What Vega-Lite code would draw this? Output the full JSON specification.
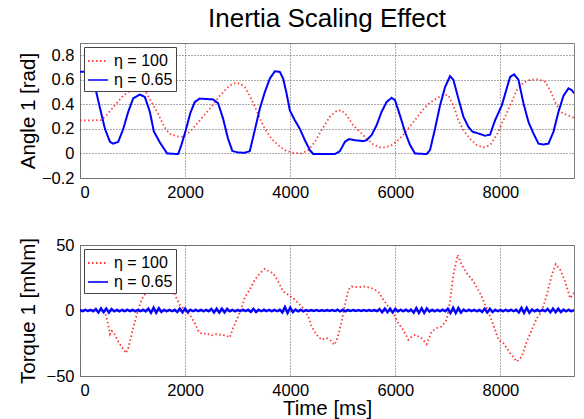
{
"$schema": "https://vega.github.io/schema/vega-lite/v6.json",
"padding": {"left": 17, "top": 5, "right": 4, "bottom": 0},
"config": {
  "font": "Liberation Sans",
  "view": {"stroke": "#808080", "strokeWidth": 1},
  "axis": {"domain": false, "ticks": false, "labelFontSize": 16.5, "labelColor": "#000", "titleFontSize": 20.5, "titleFontWeight": "normal", "titleColor": "#000", "grid": true, "gridColor": "#555", "gridDash": [1, 2], "gridWidth": 1, "labelPadding": 6},
  "legend": {"title": null, "orient": "top-left", "offset": 4, "padding": 3, "fillColor": "white", "strokeColor": "#444", "symbolType": "stroke", "symbolSize": 400, "symbolStrokeWidth": 2, "labelFontSize": 16, "labelColor": "#000", "labelOffset": 5, "rowPadding": -1, "cornerRadius": 0},
  "title": {"fontSize": 26, "fontWeight": "normal", "color": "#000"}
},
"datasets": {
  "aR": [
    {"s":"η = 100","t":0,"v":0.27},{"s":"η = 100","t":200,"v":0.27},{"s":"η = 100","t":400,"v":0.272},{"s":"η = 100","t":500,"v":0.31},{"s":"η = 100","t":640,"v":0.38},{"s":"η = 100","t":820,"v":0.47},{"s":"η = 100","t":950,"v":0.51},{"s":"η = 100","t":1080,"v":0.53},{"s":"η = 100","t":1200,"v":0.52},{"s":"η = 100","t":1255,"v":0.5},{"s":"η = 100","t":1410,"v":0.38},{"s":"η = 100","t":1480,"v":0.33},{"s":"η = 100","t":1600,"v":0.22},{"s":"η = 100","t":1700,"v":0.16},{"s":"η = 100","t":1840,"v":0.14},{"s":"η = 100","t":1930,"v":0.135},{"s":"η = 100","t":2090,"v":0.175},{"s":"η = 100","t":2280,"v":0.27},{"s":"η = 100","t":2470,"v":0.365},{"s":"η = 100","t":2660,"v":0.47},{"s":"η = 100","t":2850,"v":0.555},{"s":"η = 100","t":2975,"v":0.577},{"s":"η = 100","t":3060,"v":0.565},{"s":"η = 100","t":3136,"v":0.54},{"s":"η = 100","t":3231,"v":0.47},{"s":"η = 100","t":3326,"v":0.38},{"s":"η = 100","t":3422,"v":0.285},{"s":"η = 100","t":3517,"v":0.2},{"s":"η = 100","t":3644,"v":0.12},{"s":"η = 100","t":3771,"v":0.068},{"s":"η = 100","t":3898,"v":0.027},{"s":"η = 100","t":4057,"v":0.005},{"s":"η = 100","t":4216,"v":0},{"s":"η = 100","t":4343,"v":0.027},{"s":"η = 100","t":4470,"v":0.095},{"s":"η = 100","t":4597,"v":0.19},{"s":"η = 100","t":4755,"v":0.3},{"s":"η = 100","t":4882,"v":0.347},{"s":"η = 100","t":4978,"v":0.352},{"s":"η = 100","t":5073,"v":0.31},{"s":"η = 100","t":5200,"v":0.23},{"s":"η = 100","t":5327,"v":0.176},{"s":"η = 100","t":5454,"v":0.12},{"s":"η = 100","t":5581,"v":0.073},{"s":"η = 100","t":5708,"v":0.049},{"s":"η = 100","t":5803,"v":0.049},{"s":"η = 100","t":5930,"v":0.068},{"s":"η = 100","t":6057,"v":0.108},{"s":"η = 100","t":6184,"v":0.17},{"s":"η = 100","t":6279,"v":0.22},{"s":"η = 100","t":6406,"v":0.29},{"s":"η = 100","t":6533,"v":0.36},{"s":"η = 100","t":6660,"v":0.415},{"s":"η = 100","t":6787,"v":0.447},{"s":"η = 100","t":6914,"v":0.48},{"s":"η = 100","t":7009,"v":0.474},{"s":"η = 100","t":7105,"v":0.39},{"s":"η = 100","t":7200,"v":0.27},{"s":"η = 100","t":7295,"v":0.19},{"s":"η = 100","t":7422,"v":0.12},{"s":"η = 100","t":7549,"v":0.068},{"s":"η = 100","t":7676,"v":0.049},{"s":"η = 100","t":7803,"v":0.068},{"s":"η = 100","t":7930,"v":0.15},{"s":"η = 100","t":8057,"v":0.27},{"s":"η = 100","t":8184,"v":0.39},{"s":"η = 100","t":8311,"v":0.515},{"s":"η = 100","t":8438,"v":0.577},{"s":"η = 100","t":8565,"v":0.6},{"s":"η = 100","t":8724,"v":0.604},{"s":"η = 100","t":8851,"v":0.583},{"s":"η = 100","t":8946,"v":0.515},{"s":"η = 100","t":9041,"v":0.42},{"s":"η = 100","t":9137,"v":0.34},{"s":"η = 100","t":9232,"v":0.32},{"s":"η = 100","t":9403,"v":0.29}
  ],
  "aB": [
    {"s":"η = 0.65","t":0,"v":0.665},{"s":"η = 0.65","t":150,"v":0.665},{"s":"η = 0.65","t":230,"v":0.64},{"s":"η = 0.65","t":304,"v":0.51},{"s":"η = 0.65","t":380,"v":0.37},{"s":"η = 0.65","t":475,"v":0.2},{"s":"η = 0.65","t":570,"v":0.095},{"s":"η = 0.65","t":633,"v":0.08},{"s":"η = 0.65","t":728,"v":0.095},{"s":"η = 0.65","t":823,"v":0.2},{"s":"η = 0.65","t":918,"v":0.34},{"s":"η = 0.65","t":1013,"v":0.45},{"s":"η = 0.65","t":1140,"v":0.48},{"s":"η = 0.65","t":1234,"v":0.46},{"s":"η = 0.65","t":1329,"v":0.34},{"s":"η = 0.65","t":1405,"v":0.18},{"s":"η = 0.65","t":1519,"v":0.09},{"s":"η = 0.65","t":1658,"v":0},{"s":"η = 0.65","t":1867,"v":-0.005},{"s":"η = 0.65","t":1930,"v":0.07},{"s":"η = 0.65","t":2013,"v":0.19},{"s":"η = 0.65","t":2100,"v":0.33},{"s":"η = 0.65","t":2184,"v":0.42},{"s":"η = 0.65","t":2279,"v":0.447},{"s":"η = 0.65","t":2532,"v":0.44},{"s":"η = 0.65","t":2627,"v":0.41},{"s":"η = 0.65","t":2722,"v":0.285},{"s":"η = 0.65","t":2817,"v":0.12},{"s":"η = 0.65","t":2899,"v":0.02},{"s":"η = 0.65","t":3007,"v":0.008},{"s":"η = 0.65","t":3136,"v":0.005},{"s":"η = 0.65","t":3231,"v":0.019},{"s":"η = 0.65","t":3326,"v":0.19},{"s":"η = 0.65","t":3422,"v":0.366},{"s":"η = 0.65","t":3517,"v":0.5},{"s":"η = 0.65","t":3612,"v":0.61},{"s":"η = 0.65","t":3707,"v":0.67},{"s":"η = 0.65","t":3803,"v":0.664},{"s":"η = 0.65","t":3866,"v":0.61},{"s":"η = 0.65","t":3930,"v":0.49},{"s":"η = 0.65","t":3993,"v":0.35},{"s":"η = 0.65","t":4088,"v":0.27},{"s":"η = 0.65","t":4184,"v":0.2},{"s":"η = 0.65","t":4279,"v":0.108},{"s":"η = 0.65","t":4374,"v":0.027},{"s":"η = 0.65","t":4438,"v":-0.005},{"s":"η = 0.65","t":4851,"v":-0.005},{"s":"η = 0.65","t":4946,"v":0.019},{"s":"η = 0.65","t":5041,"v":0.095},{"s":"η = 0.65","t":5117,"v":0.117},{"s":"η = 0.65","t":5232,"v":0.108},{"s":"η = 0.65","t":5390,"v":0.1},{"s":"η = 0.65","t":5454,"v":0.108},{"s":"η = 0.65","t":5549,"v":0.15},{"s":"η = 0.65","t":5644,"v":0.23},{"s":"η = 0.65","t":5740,"v":0.34},{"s":"η = 0.65","t":5835,"v":0.42},{"s":"η = 0.65","t":5930,"v":0.453},{"s":"η = 0.65","t":5994,"v":0.434},{"s":"η = 0.65","t":6089,"v":0.31},{"s":"η = 0.65","t":6184,"v":0.176},{"s":"η = 0.65","t":6279,"v":0.07},{"s":"η = 0.65","t":6374,"v":0},{"s":"η = 0.65","t":6597,"v":-0.005},{"s":"η = 0.65","t":6660,"v":0.027},{"s":"η = 0.65","t":6755,"v":0.2},{"s":"η = 0.65","t":6850,"v":0.39},{"s":"η = 0.65","t":6946,"v":0.54},{"s":"η = 0.65","t":7041,"v":0.63},{"s":"η = 0.65","t":7105,"v":0.6},{"s":"η = 0.65","t":7200,"v":0.447},{"s":"η = 0.65","t":7295,"v":0.3},{"s":"η = 0.65","t":7390,"v":0.217},{"s":"η = 0.65","t":7473,"v":0.176},{"s":"η = 0.65","t":7581,"v":0.163},{"s":"η = 0.65","t":7708,"v":0.144},{"s":"η = 0.65","t":7803,"v":0.154},{"s":"η = 0.65","t":7898,"v":0.27},{"s":"η = 0.65","t":8025,"v":0.39},{"s":"η = 0.65","t":8120,"v":0.53},{"s":"η = 0.65","t":8184,"v":0.623},{"s":"η = 0.65","t":8260,"v":0.645},{"s":"η = 0.65","t":8343,"v":0.6},{"s":"η = 0.65","t":8438,"v":0.41},{"s":"η = 0.65","t":8533,"v":0.257},{"s":"η = 0.65","t":8628,"v":0.163},{"s":"η = 0.65","t":8724,"v":0.08},{"s":"η = 0.65","t":8819,"v":0.073},{"s":"η = 0.65","t":8914,"v":0.08},{"s":"η = 0.65","t":9009,"v":0.176},{"s":"η = 0.65","t":9105,"v":0.34},{"s":"η = 0.65","t":9200,"v":0.47},{"s":"η = 0.65","t":9295,"v":0.53},{"s":"η = 0.65","t":9359,"v":0.515},{"s":"η = 0.65","t":9403,"v":0.49}
  ],
  "tR": [
    {"s":"η = 100","t":0,"v":0.5},{"s":"η = 100","t":200,"v":0.3},{"s":"η = 100","t":400,"v":0.5},{"s":"η = 100","t":456,"v":0},{"s":"η = 100","t":490,"v":-3.3},{"s":"η = 100","t":538,"v":-11},{"s":"η = 100","t":570,"v":-18},{"s":"η = 100","t":601,"v":-15.5},{"s":"η = 100","t":633,"v":-16.5},{"s":"η = 100","t":665,"v":-18.6},{"s":"η = 100","t":728,"v":-23.7},{"s":"η = 100","t":790,"v":-27.5},{"s":"η = 100","t":873,"v":-32.6},{"s":"η = 100","t":918,"v":-28.8},{"s":"η = 100","t":981,"v":-18.6},{"s":"η = 100","t":1044,"v":-8.4},{"s":"η = 100","t":1108,"v":0.5},{"s":"η = 100","t":1171,"v":8.2},{"s":"η = 100","t":1266,"v":14.5},{"s":"η = 100","t":1400,"v":16.5},{"s":"η = 100","t":1550,"v":18},{"s":"η = 100","t":1700,"v":17.5},{"s":"η = 100","t":1772,"v":15.8},{"s":"η = 100","t":1836,"v":9.4},{"s":"η = 100","t":1899,"v":4.3},{"s":"η = 100","t":1994,"v":0.5},{"s":"η = 100","t":2089,"v":-3.3},{"s":"η = 100","t":2184,"v":-9.7},{"s":"η = 100","t":2266,"v":-16.6},{"s":"η = 100","t":2342,"v":-18},{"s":"η = 100","t":2405,"v":-17.3},{"s":"η = 100","t":2500,"v":-19.1},{"s":"η = 100","t":2595,"v":-18},{"s":"η = 100","t":2690,"v":-18.6},{"s":"η = 100","t":2785,"v":-19.1},{"s":"η = 100","t":2849,"v":-20.6},{"s":"η = 100","t":2912,"v":-13.5},{"s":"η = 100","t":3007,"v":-4.6},{"s":"η = 100","t":3070,"v":1.8},{"s":"η = 100","t":3136,"v":10},{"s":"η = 100","t":3231,"v":16},{"s":"η = 100","t":3326,"v":23.4},{"s":"η = 100","t":3422,"v":28.5},{"s":"η = 100","t":3517,"v":31.8},{"s":"η = 100","t":3580,"v":30.3},{"s":"η = 100","t":3676,"v":28.5},{"s":"η = 100","t":3771,"v":22.2},{"s":"η = 100","t":3866,"v":14.5},{"s":"η = 100","t":3961,"v":12},{"s":"η = 100","t":4057,"v":9.4},{"s":"η = 100","t":4152,"v":5.6},{"s":"η = 100","t":4247,"v":1.8},{"s":"η = 100","t":4343,"v":-4.6},{"s":"η = 100","t":4406,"v":-12.2},{"s":"η = 100","t":4501,"v":-18.6},{"s":"η = 100","t":4597,"v":-22.4},{"s":"η = 100","t":4692,"v":-21.1},{"s":"η = 100","t":4755,"v":-22.4},{"s":"η = 100","t":4838,"v":-26.2},{"s":"η = 100","t":4901,"v":-21.1},{"s":"η = 100","t":4978,"v":-8.4},{"s":"η = 100","t":5041,"v":4.3},{"s":"η = 100","t":5105,"v":15.8},{"s":"η = 100","t":5168,"v":18.3},{"s":"η = 100","t":5295,"v":17.8},{"s":"η = 100","t":5422,"v":18.3},{"s":"η = 100","t":5549,"v":17},{"s":"η = 100","t":5676,"v":14.5},{"s":"η = 100","t":5771,"v":8.2},{"s":"η = 100","t":5867,"v":3},{"s":"η = 100","t":5962,"v":-2},{"s":"η = 100","t":6057,"v":-9.7},{"s":"η = 100","t":6152,"v":-14.8},{"s":"η = 100","t":6248,"v":-22.4},{"s":"η = 100","t":6311,"v":-19.9},{"s":"η = 100","t":6374,"v":-18.6},{"s":"η = 100","t":6406,"v":-19.1},{"s":"η = 100","t":6501,"v":-21.1},{"s":"η = 100","t":6597,"v":-25.7},{"s":"η = 100","t":6692,"v":-16},{"s":"η = 100","t":6787,"v":-13.5},{"s":"η = 100","t":6882,"v":-12.2},{"s":"η = 100","t":6978,"v":-7.1},{"s":"η = 100","t":7041,"v":6.9},{"s":"η = 100","t":7105,"v":27.3},{"s":"η = 100","t":7187,"v":42.5},{"s":"η = 100","t":7263,"v":34.9},{"s":"η = 100","t":7359,"v":28.5},{"s":"η = 100","t":7486,"v":22.2},{"s":"η = 100","t":7613,"v":13.2},{"s":"η = 100","t":7740,"v":1.8},{"s":"η = 100","t":7867,"v":-11},{"s":"η = 100","t":7962,"v":-22.4},{"s":"η = 100","t":8057,"v":-25},{"s":"η = 100","t":8184,"v":-32.6},{"s":"η = 100","t":8311,"v":-39},{"s":"η = 100","t":8406,"v":-35.2},{"s":"η = 100","t":8502,"v":-23.7},{"s":"η = 100","t":8597,"v":-14.8},{"s":"η = 100","t":8692,"v":-5.9},{"s":"η = 100","t":8787,"v":-0.8},{"s":"η = 100","t":8883,"v":12},{"s":"η = 100","t":8978,"v":27.3},{"s":"η = 100","t":9054,"v":35.4},{"s":"η = 100","t":9137,"v":31.1},{"s":"η = 100","t":9232,"v":22.2},{"s":"η = 100","t":9327,"v":9.4},{"s":"η = 100","t":9400,"v":13.5}
  ],
  "tB": [
    {"s":"η = 0.65","t":0,"v":0.4},{"s":"η = 0.65","t":50,"v":-0.5},{"s":"η = 0.65","t":100,"v":0.55},{"s":"η = 0.65","t":150,"v":-0.4},{"s":"η = 0.65","t":200,"v":0.5},{"s":"η = 0.65","t":250,"v":-0.55},{"s":"η = 0.65","t":300,"v":1.1},{"s":"η = 0.65","t":350,"v":-1.5},{"s":"η = 0.65","t":400,"v":1.6},{"s":"η = 0.65","t":450,"v":-1.3},{"s":"η = 0.65","t":500,"v":1.5},{"s":"η = 0.65","t":550,"v":-1.6},{"s":"η = 0.65","t":600,"v":1.2},{"s":"η = 0.65","t":650,"v":-0.65},{"s":"η = 0.65","t":700,"v":0.55},{"s":"η = 0.65","t":750,"v":-0.6},{"s":"η = 0.65","t":800,"v":0.5},{"s":"η = 0.65","t":850,"v":-0.55},{"s":"η = 0.65","t":900,"v":0.6},{"s":"η = 0.65","t":950,"v":-0.5},{"s":"η = 0.65","t":1000,"v":0.55},{"s":"η = 0.65","t":1050,"v":-0.6},{"s":"η = 0.65","t":1100,"v":0.5},{"s":"η = 0.65","t":1150,"v":-0.55},{"s":"η = 0.65","t":1200,"v":0.6},{"s":"η = 0.65","t":1250,"v":-0.65},{"s":"η = 0.65","t":1300,"v":1.4},{"s":"η = 0.65","t":1350,"v":-1.8},{"s":"η = 0.65","t":1400,"v":2.2},{"s":"η = 0.65","t":1450,"v":-1.7},{"s":"η = 0.65","t":1500,"v":1.8},{"s":"η = 0.65","t":1550,"v":-1.1},{"s":"η = 0.65","t":1600,"v":0.55},{"s":"η = 0.65","t":1650,"v":-0.6},{"s":"η = 0.65","t":1700,"v":0.5},{"s":"η = 0.65","t":1750,"v":-0.55},{"s":"η = 0.65","t":1800,"v":0.6},{"s":"η = 0.65","t":1850,"v":-1.2},{"s":"η = 0.65","t":1900,"v":1.5},{"s":"η = 0.65","t":1950,"v":-1.4},{"s":"η = 0.65","t":2000,"v":1.5},{"s":"η = 0.65","t":2050,"v":-1.3},{"s":"η = 0.65","t":2100,"v":0.65},{"s":"η = 0.65","t":2150,"v":-0.55},{"s":"η = 0.65","t":2200,"v":0.6},{"s":"η = 0.65","t":2250,"v":-0.5},{"s":"η = 0.65","t":2300,"v":0.55},{"s":"η = 0.65","t":2350,"v":-0.6},{"s":"η = 0.65","t":2400,"v":0.5},{"s":"η = 0.65","t":2450,"v":-0.55},{"s":"η = 0.65","t":2500,"v":1.2},{"s":"η = 0.65","t":2550,"v":-1.5},{"s":"η = 0.65","t":2600,"v":1.4},{"s":"η = 0.65","t":2650,"v":-1.6},{"s":"η = 0.65","t":2700,"v":1.5},{"s":"η = 0.65","t":2750,"v":-1.4},{"s":"η = 0.65","t":2800,"v":1.3},{"s":"η = 0.65","t":2850,"v":-0.65},{"s":"η = 0.65","t":2900,"v":0.55},{"s":"η = 0.65","t":2950,"v":-0.6},{"s":"η = 0.65","t":3000,"v":0.5},{"s":"η = 0.65","t":3050,"v":-0.55},{"s":"η = 0.65","t":3100,"v":0.6},{"s":"η = 0.65","t":3150,"v":-0.5},{"s":"η = 0.65","t":3200,"v":0.55},{"s":"η = 0.65","t":3250,"v":-1.1},{"s":"η = 0.65","t":3300,"v":1.3},{"s":"η = 0.65","t":3350,"v":-1.2},{"s":"η = 0.65","t":3400,"v":0.65},{"s":"η = 0.65","t":3450,"v":-0.55},{"s":"η = 0.65","t":3500,"v":0.6},{"s":"η = 0.65","t":3550,"v":-0.5},{"s":"η = 0.65","t":3600,"v":0.55},{"s":"η = 0.65","t":3650,"v":-0.6},{"s":"η = 0.65","t":3700,"v":0.5},{"s":"η = 0.65","t":3750,"v":-0.55},{"s":"η = 0.65","t":3800,"v":0.65},{"s":"η = 0.65","t":3850,"v":-1.4},{"s":"η = 0.65","t":3900,"v":2.6},{"s":"η = 0.65","t":3950,"v":-1.8},{"s":"η = 0.65","t":4000,"v":2.2},{"s":"η = 0.65","t":4050,"v":-1.2},{"s":"η = 0.65","t":4100,"v":0.7},{"s":"η = 0.65","t":4150,"v":-0.65},{"s":"η = 0.65","t":4200,"v":0.6},{"s":"η = 0.65","t":4250,"v":-0.65},{"s":"η = 0.65","t":4300,"v":0.4},{"s":"η = 0.65","t":4350,"v":-0.4},{"s":"η = 0.65","t":4400,"v":0.4},{"s":"η = 0.65","t":4450,"v":-0.3},{"s":"η = 0.65","t":4500,"v":0.4},{"s":"η = 0.65","t":4550,"v":-0.4},{"s":"η = 0.65","t":4600,"v":0.3},{"s":"η = 0.65","t":4650,"v":-0.4},{"s":"η = 0.65","t":4700,"v":0.4},{"s":"η = 0.65","t":4750,"v":-0.3},{"s":"η = 0.65","t":4800,"v":0.4},{"s":"η = 0.65","t":4850,"v":-0.4},{"s":"η = 0.65","t":4900,"v":0.6},{"s":"η = 0.65","t":4950,"v":-0.7},{"s":"η = 0.65","t":5000,"v":0.65},{"s":"η = 0.65","t":5050,"v":-0.6},{"s":"η = 0.65","t":5100,"v":0.5},{"s":"η = 0.65","t":5150,"v":-0.4},{"s":"η = 0.65","t":5200,"v":0.4},{"s":"η = 0.65","t":5250,"v":-0.4},{"s":"η = 0.65","t":5300,"v":0.4},{"s":"η = 0.65","t":5350,"v":-0.4},{"s":"η = 0.65","t":5400,"v":0.4},{"s":"η = 0.65","t":5450,"v":-0.4},{"s":"η = 0.65","t":5500,"v":0.4},{"s":"η = 0.65","t":5550,"v":-0.4},{"s":"η = 0.65","t":5600,"v":0.4},{"s":"η = 0.65","t":5650,"v":-0.5},{"s":"η = 0.65","t":5700,"v":1.1},{"s":"η = 0.65","t":5750,"v":-1.4},{"s":"η = 0.65","t":5800,"v":1.5},{"s":"η = 0.65","t":5850,"v":-1.3},{"s":"η = 0.65","t":5900,"v":1.4},{"s":"η = 0.65","t":5950,"v":-1.5},{"s":"η = 0.65","t":6000,"v":1.3},{"s":"η = 0.65","t":6050,"v":-0.7},{"s":"η = 0.65","t":6100,"v":0.65},{"s":"η = 0.65","t":6150,"v":-0.6},{"s":"η = 0.65","t":6200,"v":0.65},{"s":"η = 0.65","t":6250,"v":-0.65},{"s":"η = 0.65","t":6300,"v":0.7},{"s":"η = 0.65","t":6350,"v":-1.6},{"s":"η = 0.65","t":6400,"v":1.8},{"s":"η = 0.65","t":6450,"v":-1.9},{"s":"η = 0.65","t":6500,"v":1.7},{"s":"η = 0.65","t":6550,"v":-1.8},{"s":"η = 0.65","t":6600,"v":1.6},{"s":"η = 0.65","t":6650,"v":-0.8},{"s":"η = 0.65","t":6700,"v":0.55},{"s":"η = 0.65","t":6750,"v":-0.6},{"s":"η = 0.65","t":6800,"v":0.5},{"s":"η = 0.65","t":6850,"v":-0.55},{"s":"η = 0.65","t":6900,"v":0.6},{"s":"η = 0.65","t":6950,"v":-0.55},{"s":"η = 0.65","t":7000,"v":1.4},{"s":"η = 0.65","t":7050,"v":-1.9},{"s":"η = 0.65","t":7100,"v":2.1},{"s":"η = 0.65","t":7150,"v":-2.0},{"s":"η = 0.65","t":7200,"v":1.9},{"s":"η = 0.65","t":7250,"v":-1.6},{"s":"η = 0.65","t":7300,"v":0.7},{"s":"η = 0.65","t":7350,"v":-0.55},{"s":"η = 0.65","t":7400,"v":0.6},{"s":"η = 0.65","t":7450,"v":-0.5},{"s":"η = 0.65","t":7500,"v":0.55},{"s":"η = 0.65","t":7550,"v":-0.6},{"s":"η = 0.65","t":7600,"v":0.5},{"s":"η = 0.65","t":7650,"v":-1.1},{"s":"η = 0.65","t":7700,"v":1.4},{"s":"η = 0.65","t":7750,"v":-1.5},{"s":"η = 0.65","t":7800,"v":1.3},{"s":"η = 0.65","t":7850,"v":-1.2},{"s":"η = 0.65","t":7900,"v":0.6},{"s":"η = 0.65","t":7950,"v":-0.55},{"s":"η = 0.65","t":8000,"v":0.5},{"s":"η = 0.65","t":8050,"v":-0.6},{"s":"η = 0.65","t":8100,"v":0.55},{"s":"η = 0.65","t":8150,"v":-0.5},{"s":"η = 0.65","t":8200,"v":0.6},{"s":"η = 0.65","t":8250,"v":-0.55},{"s":"η = 0.65","t":8300,"v":0.65},{"s":"η = 0.65","t":8350,"v":-1.5},{"s":"η = 0.65","t":8400,"v":2.0},{"s":"η = 0.65","t":8450,"v":-1.8},{"s":"η = 0.65","t":8500,"v":2.1},{"s":"η = 0.65","t":8550,"v":-1.7},{"s":"η = 0.65","t":8600,"v":0.8},{"s":"η = 0.65","t":8650,"v":-0.65},{"s":"η = 0.65","t":8700,"v":0.6},{"s":"η = 0.65","t":8750,"v":-0.65},{"s":"η = 0.65","t":8800,"v":0.65},{"s":"η = 0.65","t":8850,"v":-0.6},{"s":"η = 0.65","t":8900,"v":1.2},{"s":"η = 0.65","t":8950,"v":-1.4},{"s":"η = 0.65","t":9000,"v":1.5},{"s":"η = 0.65","t":9050,"v":-1.3},{"s":"η = 0.65","t":9100,"v":1.4},{"s":"η = 0.65","t":9150,"v":-1.2},{"s":"η = 0.65","t":9200,"v":0.7},{"s":"η = 0.65","t":9250,"v":-0.65},{"s":"η = 0.65","t":9300,"v":0.6},{"s":"η = 0.65","t":9350,"v":-0.65},{"s":"η = 0.65","t":9400,"v":0.55}
  ]
},
"spacing": 35,
"resolve": {"scale": {"color": "independent", "strokeDash": "independent"}},
"vconcat": [
  {
    "title": {"text": "Inertia Scaling Effect", "offset": 11},
    "width": 494,
    "height": 135,
    "encoding": {
      "x": {"field": "t", "type": "quantitative", "scale": {"domain": [0, 9400], "nice": false, "zero": false}, "axis": {"values": [0, 2000, 4000, 6000, 8000], "format": "d", "title": null}},
      "y": {"field": "v", "type": "quantitative", "scale": {"domain": [-0.2, 0.9], "nice": false}, "axis": {"values": [-0.2, 0, 0.2, 0.4, 0.6, 0.8], "format": "~g", "title": "Angle 1 [rad]", "titlePadding": 8, "minExtent": 34, "maxExtent": 34}},
      "color": {"field": "s", "type": "nominal", "scale": {"domain": ["η = 100", "η = 0.65"], "range": ["#ff0000", "#0000ff"]}},
      "strokeDash": {"field": "s", "type": "nominal", "scale": {"domain": ["η = 100", "η = 0.65"], "range": [[1.5, 2.5], [1, 0]]}}
    },
    "layer": [
      {"data": {"name": "aR"}, "mark": {"type": "line", "strokeWidth": 1.8, "opacity": 0.75, "clip": true}},
      {"data": {"name": "aB"}, "mark": {"type": "line", "strokeWidth": 2, "clip": true}}
    ]
  },
  {
    "width": 494,
    "height": 131,
    "encoding": {
      "x": {"field": "t", "type": "quantitative", "scale": {"domain": [0, 9400], "nice": false, "zero": false}, "axis": {"values": [0, 2000, 4000, 6000, 8000], "format": "d", "title": "Time [ms]", "titlePadding": 0}},
      "y": {"field": "v", "type": "quantitative", "scale": {"domain": [-50, 50], "nice": false}, "axis": {"values": [-50, 0, 50], "format": "d", "title": "Torque 1 [mNm]", "titlePadding": 8, "minExtent": 34, "maxExtent": 34}},
      "color": {"field": "s", "type": "nominal", "scale": {"domain": ["η = 100", "η = 0.65"], "range": ["#ff0000", "#0000ff"]}},
      "strokeDash": {"field": "s", "type": "nominal", "scale": {"domain": ["η = 100", "η = 0.65"], "range": [[1.5, 2.5], [1, 0]]}}
    },
    "layer": [
      {"data": {"name": "tR"}, "mark": {"type": "line", "strokeWidth": 1.8, "opacity": 0.8, "clip": true}},
      {"data": {"name": "tB"}, "mark": {"type": "line", "strokeWidth": 2.4, "clip": true}}
    ]
  }
]
}
